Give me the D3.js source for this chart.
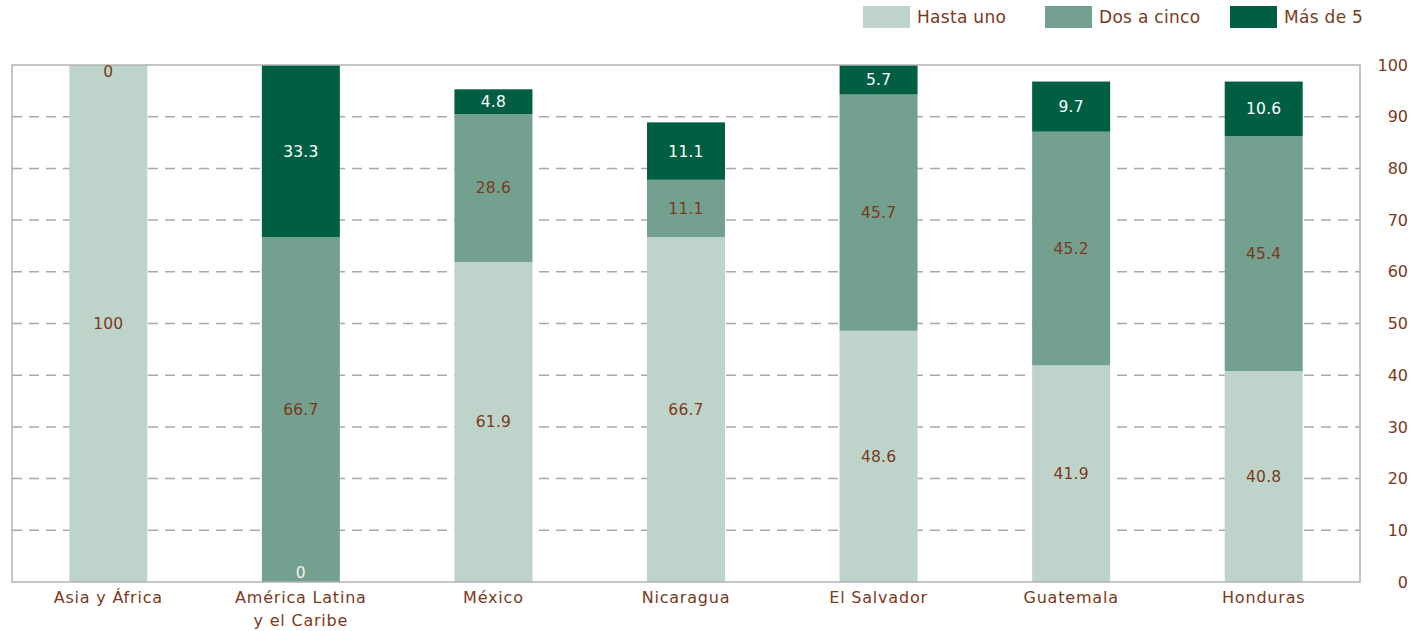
<!DOCTYPE html>
<html>
<head>
<meta charset="utf-8">
<script src="https://cdn.jsdelivr.net/npm/d3@7"></script>
<style>
  body { margin: 0; background: #fff; }
  svg { display: block; font-family: "DejaVu Sans", sans-serif; }
</style>
</head>
<body>
<div id="chart"></div>
<script>
// data
var categories = ["Asia y África", "América Latina|y el Caribe", "México", "Nicaragua", "El  Salvador", "Guatemala", "Honduras"];
var seriesNames = ["Hasta uno", "Dos a cinco", "Más de 5"];
var hastaUno = [100, 0, 61.9, 66.7, 48.6, 41.9, 40.8];
var dosACinco = [0, 66.7, 28.6, 11.1, 45.7, 45.2, 45.4];
var masDe5 = [0, 33.3, 4.8, 11.1, 5.7, 9.7, 10.6];
var yTicks = [0, 10, 20, 30, 40, 50, 60, 70, 80, 90, 100];

var colors = ["#bed4ca", "#74a08f", "#005e42"];
var labelColors = ["#7a3a1c", "#7a3a1c", "#ffffff"];
var textColor = "#7a3a1c";

var W = 1420, H = 631;
var margin = {top: 65, right: 60, bottom: 49, left: 12};
var plotW = W - margin.left - margin.right, plotH = H - margin.top - margin.bottom;

var svg = d3.select("#chart").append("svg").attr("width", W).attr("height", H);
var g = svg.append("g").attr("transform", "translate(" + margin.left + "," + margin.top + ")");

var x = d3.scaleBand().domain(d3.range(categories.length)).range([0, plotW]).paddingInner(0.595).paddingOuter(0.2975);
var y = d3.scaleLinear().domain([0, 100]).range([plotH, 0]);

// gridlines
g.selectAll("line.grid").data(yTicks.filter(function(d){ return d > 0 && d < 100; })).enter().append("line")
    .attr("x1", 0).attr("x2", plotW)
    .attr("y1", function(d){ return y(d); }).attr("y2", function(d){ return y(d); })
    .attr("stroke", "#a9a9a9").attr("stroke-width", 1.5).attr("stroke-dasharray", "10,7");

// stack
var rows = categories.map(function(c, i){ return {i: i, a: hastaUno[i], b: dosACinco[i], c: masDe5[i]}; });
var stacked = d3.stack().keys(["a", "b", "c"])(rows);

stacked.forEach(function(layer, si){
    g.selectAll("rect.s" + si).data(layer).enter().append("rect")
        .attr("x", function(d){ return x(d.data.i); })
        .attr("width", x.bandwidth())
        .attr("y", function(d){ return y(d[1]); })
        .attr("height", function(d){ return y(d[0]) - y(d[1]); })
        .attr("fill", colors[si]);
});

// plot border
g.append("rect").attr("x", 0).attr("y", 0).attr("width", plotW).attr("height", plotH)
    .attr("fill", "none").attr("stroke", "#b3b3b3").attr("stroke-width", 1.5);

// data labels
var seen = {};
stacked.forEach(function(layer, si){
    layer.forEach(function(d){
        var v = d[1] - d[0];
        var cy = y((d[0] + d[1]) / 2), col = labelColors[si];
        if (v === 0) {
            var key = d.data.i + "_" + d[0];
            if (seen[key]) return;
            seen[key] = true;
            if (d[0] >= 100) { cy = y(100) + 7; col = textColor; }
            else if (d[0] <= 0) { cy = y(0) - 9; col = "#f2f2f2"; }
        }
        g.append("text")
            .attr("x", x(d.data.i) + x.bandwidth() / 2)
            .attr("y", cy)
            .attr("dy", "0.35em")
            .attr("text-anchor", "middle")
            .attr("font-size", 15.5)
            .attr("letter-spacing", 0.2)
            .attr("fill", col)
            .text(String(+v.toFixed(1)));
    });
});

// right axis labels
g.selectAll("text.ytick").data(yTicks).enter().append("text")
    .attr("x", plotW + 48).attr("y", function(d){ return y(d); })
    .attr("dy", "0.35em").attr("text-anchor", "end")
    .attr("font-size", 16).attr("fill", textColor)
    .text(function(d){ return d; });

// category labels
categories.forEach(function(c, i){
    var t = g.append("text")
        .attr("x", x(i) + x.bandwidth() / 2).attr("y", plotH + 21)
        .attr("text-anchor", "middle").attr("font-size", 16)
        .attr("letter-spacing", 0.8).attr("fill", textColor);
    c.split("|").forEach(function(line, li){
        t.append("tspan").attr("x", x(i) + x.bandwidth() / 2).attr("dy", li ? 23 : 0).text(line);
    });
});

// legend
var legendX = [863, 1045, 1230];
seriesNames.forEach(function(name, i){
    var lg = svg.append("g").attr("transform", "translate(" + legendX[i] + ",6)");
    lg.append("rect").attr("width", 47).attr("height", 22).attr("fill", colors[i]);
    lg.append("text").attr("x", 54).attr("y", 11).attr("dy", "0.35em")
        .attr("font-size", 17).attr("letter-spacing", 0.3).attr("fill", textColor).text(name);
});
</script>
</body>
</html>
